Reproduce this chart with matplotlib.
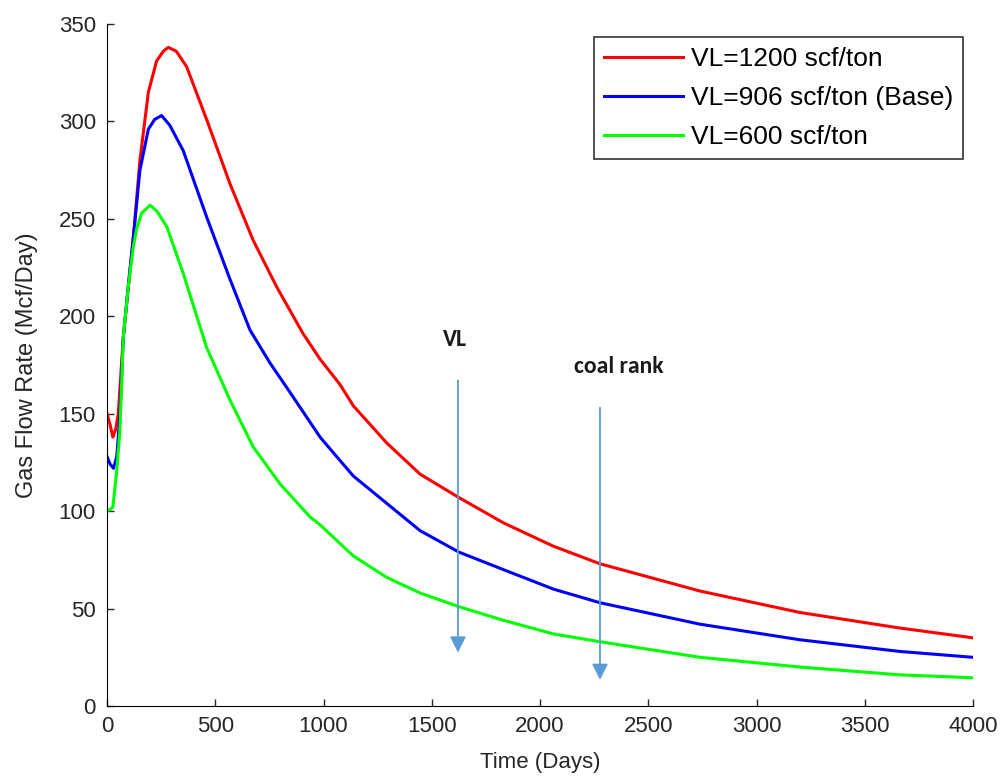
import matplotlib
matplotlib.use('Agg')
import matplotlib.pyplot as plt

# gas rate vs time for three Langmuir volumes
t_red = [0, 15, 27, 40, 52, 75, 98, 122, 152, 191, 229, 260, 283, 320, 368, 460, 568, 675, 784, 906,
         984, 1076, 1138, 1292, 1446, 1625, 1831, 2062, 2277, 2739, 3201, 3663, 4000]
q_red = [150, 144, 138, 142, 150, 189, 215, 241, 280, 315, 331, 336, 338, 336, 328, 301, 268, 239, 215, 191,
         178, 165, 154, 135, 119, 107, 94, 82, 73, 59, 48, 40, 35]

t_blue = [0, 15, 30, 45, 60, 75, 98, 122, 152, 191, 220, 252, 290, 352, 460, 568, 660, 753, 845,
          984, 1076, 1138, 1292, 1446, 1625, 1831, 2062, 2277, 2739, 3201, 3663, 4000]
q_blue = [128, 124, 122, 128, 150, 189, 215, 241, 275, 296, 301, 303, 298, 285, 251, 219, 193, 176, 161,
          138, 126, 118, 104, 90, 79, 70, 60, 53, 42, 34, 28, 25]

t_green = [0, 15, 27, 45, 60, 75, 98, 122, 137, 160, 199, 230, 276, 352, 460, 568, 675, 799, 938,
           984, 1138, 1292, 1446, 1625, 1831, 2062, 2277, 2739, 3201, 3663, 4000]
q_green = [100, 101, 102, 121, 142, 189, 215, 236, 245, 253, 257, 254, 246, 222, 184, 157, 133, 114, 97,
           93, 77, 66, 58, 51, 44, 37, 33, 25, 20, 16, 14.5]

labels = ['VL=1200 scf/ton', 'VL=906 scf/ton (Base)', 'VL=600 scf/ton']
x_ticks = [0, 500, 1000, 1500, 2000, 2500, 3000, 3500, 4000]
y_ticks = [0, 50, 100, 150, 200, 250, 300, 350]

# annotation arrows: (text, text x, text y, arrow x, arrow start y, arrow tip y)
notes = [('VL', 1607, 188, 1621, 168.5, 26), ('coal rank', 2365, 174, 2277, 154.5, 12)]

tick_font = ['Liberation Sans Narrow', 'Liberation Sans', 'DejaVu Sans']

fig = plt.figure(figsize=(10.03, 7.78), dpi=100)
ax = fig.add_axes([0.1067, 0.0925, 0.8634, 0.8767])

ax.plot(t_red, q_red, color='#ff0000', lw=2.2, label=labels[0])
ax.plot(t_blue, q_blue, color='#0000ff', lw=2.2, label=labels[1])
ax.plot(t_green, q_green, color='#00ff00', lw=2.2, label=labels[2])

for txt, tx, ty, x, y0, y1 in notes:
	ax.annotate('', xy=(x, y1), xytext=(x, y0),
	            arrowprops=dict(arrowstyle='-|>', color='#5b9bd5', lw=1.3, mutation_scale=24))
	ax.text(tx, ty, txt, ha='center', va='center',
	        fontsize=17, fontweight='bold', family=['Carlito', 'DejaVu Sans'], color='#1a1a1a')

ax.set_xlim(0, 4000)
ax.set_ylim(0, 350)
ax.set_xticks(x_ticks)
ax.set_yticks(y_ticks)
ax.spines['top'].set_visible(False)
ax.spines['right'].set_visible(False)
ax.tick_params(direction='in', length=5, width=1, labelsize=16, colors='#262626')
ax.tick_params(axis='y', pad=8)
ax.tick_params(axis='x', pad=7)
for lab in ax.get_xticklabels() + ax.get_yticklabels():
	lab.set_family(tick_font)

ax.set_xlabel('Time (Days)', fontsize=16, family=tick_font, color='#262626', labelpad=11)
ax.set_ylabel('Gas Flow Rate (Mcf/Day)', fontsize=17, family=tick_font, color='#262626', labelpad=15)

leg = ax.legend(loc='upper right', bbox_to_anchor=(0.9885, 0.9805), frameon=True,
                fancybox=False, edgecolor='black', handlelength=3.0, handletextpad=0.3,
                borderpad=0.38, labelspacing=0.56, borderaxespad=0,
                prop={'family': 'Liberation Sans', 'size': 19})
leg.get_frame().set_linewidth(1.2)

plt.savefig('out.png', dpi=100)
plt.close()
